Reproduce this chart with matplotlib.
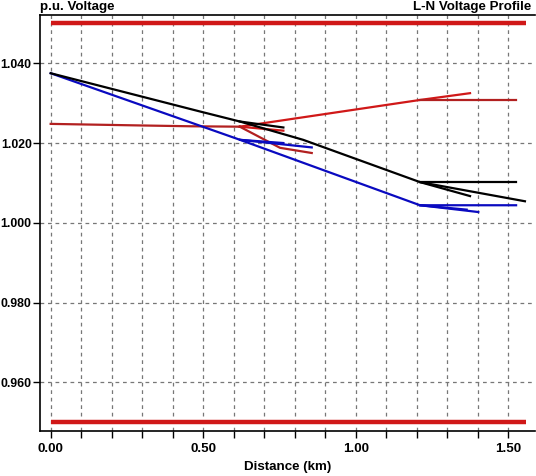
import matplotlib
matplotlib.use("Agg")
import matplotlib.pyplot as plt
from matplotlib.ticker import MultipleLocator, FuncFormatter

plt.rcParams['font.family'] = ['Liberation Sans', 'DejaVu Sans']
plt.rcParams['font.weight'] = 'bold'

# voltage limits (p.u.) and feeder length
v_upper = 1.050
v_lower = 0.950
limit_d = [0.0, 1.557]

# phase A (black) branches: distance (km), voltage (p.u.)
black_main_d = [0.0, 0.49, 0.62, 0.828, 1.211, 1.555]
black_main_v = [1.0375, 1.0279, 1.0254, 1.0208, 1.0102, 1.0054]
black_b1_d = [0.62, 0.763]
black_b1_v = [1.0254, 1.0239]
black_b2_d = [1.211, 1.526]
black_b2_v = [1.0102, 1.0102]
black_b3_d = [1.211, 1.375]
black_b3_v = [1.0102, 1.0067]

# phase B (red) branches
red_main_d = [0.0, 0.15, 0.30, 0.46, 0.62]
red_main_v = [1.0248, 1.0246, 1.0244, 1.0242, 1.0241]
red_up_d = [0.62, 1.211, 1.375]
red_up_v = [1.0241, 1.0308, 1.0325]
red_b1_d = [1.211, 1.526]
red_b1_v = [1.0308, 1.0308]
red_b2_d = [0.62, 0.763]
red_b2_v = [1.0241, 1.0231]
red_b3_d = [0.62, 0.752, 0.856]
red_b3_v = [1.0241, 1.0188, 1.0175]

# phase C (blue) branches
blue_main_d = [0.0, 0.621, 1.211, 1.526]
blue_main_v = [1.0375, 1.0208, 1.0044, 1.0044]
blue_b1_d = [0.621, 0.856]
blue_b1_v = [1.0208, 1.0189]
blue_b2_d = [0.621, 0.763]
blue_b2_v = [1.0208, 1.0200]
blue_b3_d = [1.211, 1.402]
blue_b3_v = [1.0044, 1.0027]
blue_b4_d = [1.211, 1.364]
blue_b4_v = [1.0044, 1.0033]

RED = '#d01818'
DARKRED = '#b22020'
BLUE = '#0a0ac0'
FS = 9.6

fig = plt.figure(figsize=(5.36, 4.76), dpi=100)
ax = fig.add_axes([40/536, 1 - 431/476, 495/536, 416/476])

ax.plot(limit_d, [v_upper, v_upper], color=RED, lw=3.2, solid_capstyle='butt')
ax.plot(limit_d, [v_lower, v_lower], color=RED, lw=3.2, solid_capstyle='butt')

lw = 1.6
ax.plot(red_main_d, red_main_v, color=DARKRED, lw=lw)
ax.plot(red_up_d, red_up_v, color=RED, lw=lw)
ax.plot(red_b1_d, red_b1_v, color=DARKRED, lw=lw)
ax.plot(red_b2_d, red_b2_v, color=RED, lw=lw)
ax.plot(red_b3_d, red_b3_v, color=DARKRED, lw=lw)

ax.plot(blue_main_d, blue_main_v, color=BLUE, lw=lw)
ax.plot(blue_b1_d, blue_b1_v, color=BLUE, lw=lw)
ax.plot(blue_b2_d, blue_b2_v, color=BLUE, lw=lw)
ax.plot(blue_b3_d, blue_b3_v, color=BLUE, lw=lw)
ax.plot(blue_b4_d, blue_b4_v, color=BLUE, lw=lw)

ax.plot(black_main_d, black_main_v, color='black', lw=lw)
ax.plot(black_b1_d, black_b1_v, color='black', lw=lw)
ax.plot(black_b2_d, black_b2_v, color='black', lw=lw)
ax.plot(black_b3_d, black_b3_v, color='black', lw=lw)

ax.set_xlim(-0.035, 1.588)
ax.set_ylim(0.9478, 1.0521)

ax.xaxis.set_major_locator(MultipleLocator(0.1))
ax.xaxis.set_major_formatter(FuncFormatter(
    lambda x, p: f"{x:.2f}" if abs(round(x / 0.5) * 0.5 - x) < 1e-6 else ""))
ax.yaxis.set_major_locator(MultipleLocator(0.02))
ax.yaxis.set_major_formatter(FuncFormatter(lambda y, p: f"{y:.3f}"))

ax.grid(True, color='#777777', linestyle=(0, (3, 3)), lw=0.9)
ax.set_axisbelow(True)
ax.tick_params(length=5, width=1, labelsize=FS, pad=4)
ax.tick_params(axis='y', pad=1, labelsize=8.8)
ax.spines['right'].set_visible(False)
for s in ['left', 'bottom', 'top']:
    ax.spines[s].set_linewidth(1.2)

ax.set_xlabel("Distance (km)", fontsize=FS, fontweight='bold', labelpad=4)
fig.text(40/536, 1 - 1/476, "p.u. Voltage", ha='left', va='top',
         fontsize=FS, fontweight='bold')
fig.text(531/536, 1 - 1/476, "L-N Voltage Profile", ha='right', va='top',
         fontsize=FS, fontweight='bold')

fig.savefig("out.png", dpi=100)
